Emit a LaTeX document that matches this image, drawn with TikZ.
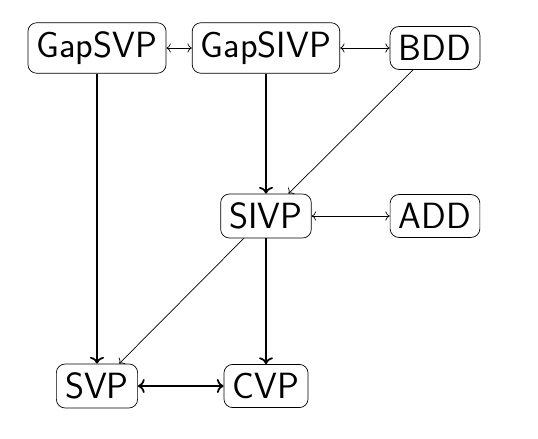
\documentclass[tikz,border=0pt]{standalone}
\usepackage{tikz}
\usetikzlibrary{arrows.meta,positioning}
\tikzset{
  prob/.style={draw, rounded corners=5pt, font=\huge\sffamily, inner sep=5pt},
  red/.style={->, line width=1pt},
  wred/.style={->, thin},
  eqv/.style={<->, thin},
  seqv/.style={<->, line width=1pt},
}

\begin{document}
\begin{tikzpicture}[x=1cm,y=1cm]
\useasboundingbox (0,0) rectangle (10.76,-8.78);
\node[prob] (gsvp)  at (1.94,-0.96) {GapSVP};
\node[prob] (gsivp) at (5.32,-0.96) {GapSIVP};
\node[prob] (bdd)   at (8.70,-0.96) {BDD};
\node[prob] (sivp)  at (5.32,-4.32) {SIVP};
\node[prob] (add)   at (8.70,-4.32) {ADD};
\node[prob] (svp)   at (1.94,-7.72) {SVP};
\node[prob] (cvp)   at (5.32,-7.72) {CVP};
\draw[eqv] (gsvp) -- (gsivp);
\draw[eqv] (gsivp) -- (bdd);
\draw[eqv] (sivp) -- (add);
\draw[seqv] (svp) -- (cvp);
\draw[red] (gsvp) -- (svp);
\draw[red] (gsivp) -- (sivp);
\draw[red] (sivp) -- (cvp);
\draw[wred] (bdd) -- (sivp);
\draw[wred] (sivp) -- (svp);
\end{tikzpicture}
\end{document}
